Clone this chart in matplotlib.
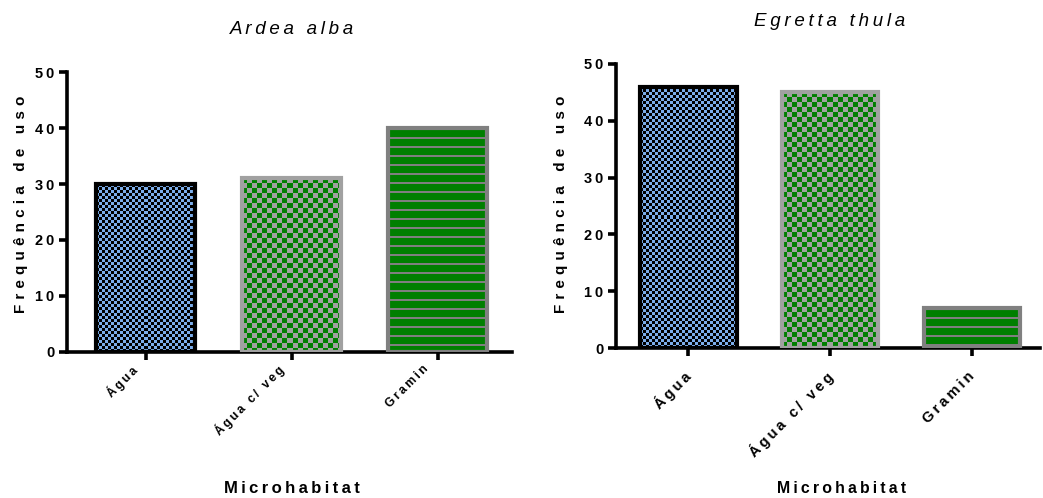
import numpy as np
import matplotlib
matplotlib.use("Agg")
import matplotlib.pyplot as plt
from matplotlib.transforms import ScaledTranslation

plt.rcParams['font.family'] = ['Liberation Sans', 'DejaVu Sans']

# data
categories = ["Água", "Água c/ veg", "Gramin"]
ardea = [30, 31, 40]
egretta = [46, 45, 7]
yticks = [0, 10, 20, 30, 40, 50]

BLUE = (0.49, 0.68, 0.92)
GREEN = (0.0, 0.5, 0.0)
GRAY1 = (0.63, 0.63, 0.63)
GRAY2 = (0.5, 0.5, 0.5)
edges = ["black", GRAY1, GRAY2]

THIN = "\u2009"
THIRD = "\u2004"


def sp(s, sep=THIN):
    # wide letter spacing like the prism export
    return sep.join(list(s))


def pattern(kind, w, h):
    yy, xx = np.mgrid[0:h, 0:w]
    img = np.zeros((h, w, 3))
    if kind == 0:
        chk = ((xx // 3) + (yy // 3)) % 2 == 0
        img[:] = BLUE
        img[chk] = (0, 0, 0)
    elif kind == 1:
        chk = ((xx // 5) + (yy // 5)) % 2 == 0
        img[:] = GRAY1
        img[chk] = GREEN
    else:
        img[:] = GREEN
        img[(yy % 9) < 2] = GRAY2
    return img


fig = plt.figure(figsize=(10.43, 4.98), dpi=100)
axL = fig.add_axes([0.0642, 0.2932, 0.4267, 0.5622])
axR = fig.add_axes([0.5906, 0.3012, 0.4065, 0.5703])

# axes, values, xlim, xtick font size, xtick pad, label shift (inches)
setups = [(axL, ardea, (-0.54, 2.51), 8.7, 2, -0.15),
          (axR, egretta, (-0.51, 2.48), 10.6, 9, -0.05)]
for ax, vals, xl, fs, pad, dx in setups:
    x = np.arange(len(categories))
    bars = ax.bar(x, vals, width=0.68, color="white", edgecolor="none", zorder=1)
    ax.set_xlim(*xl)
    ax.set_ylim(0, 50)
    for s in ["top", "right"]:
        ax.spines[s].set_visible(False)
    for s in ["left", "bottom"]:
        ax.spines[s].set_linewidth(2.6)
    ax.set_yticks(yticks)
    ax.set_yticklabels([sp(str(t)) for t in yticks], fontsize=10.5, fontweight="bold")
    ax.set_xticks(x)
    ax.set_xticklabels([sp(c) for c in categories], fontsize=fs, fontweight="bold",
                       rotation=45, ha="right", rotation_mode="anchor")
    ax.tick_params(width=2.6, length=6, pad=3)
    ax.tick_params(axis="x", pad=pad)
    ax._bars = bars

fig.canvas.draw()
r = fig.canvas.get_renderer()
for ax, vals, xl, fs, pad, dx in setups:
    for i, b in enumerate(ax._bars):
        bb = b.get_window_extent(r)
        w, h = int(round(bb.width)), int(round(bb.height))
        img = pattern(i, max(w, 1), max(h, 1))
        x0 = b.get_x()
        im = ax.imshow(img, extent=(x0, x0 + b.get_width(), 0, b.get_height()),
                       origin="upper", interpolation="nearest", aspect="auto", zorder=2)
        im.set_clip_path(b)
        ax.bar(b.get_x() + b.get_width() / 2, b.get_height(), width=b.get_width(),
               fill=False, edgecolor=edges[i], linewidth=3, zorder=3)
    ax.set_xlim(*xl)
    ax.set_ylim(0, 50)
    shift = ScaledTranslation(dx, 0, fig.dpi_scale_trans)
    for lbl in ax.get_xticklabels():
        lbl.set_transform(lbl.get_transform() + shift)

fig.text(0.28, 0.94, sp("Ardea alba"), fontsize=13.5, style="italic", ha="center", va="center")
fig.text(0.795, 0.956, sp("Egretta thula"), fontsize=13.5, style="italic", ha="center", va="center")
fig.text(0.0197, 0.59, sp("Frequência de uso", THIRD), fontsize=11, fontweight="bold",
         rotation=90, ha="center", va="center")
fig.text(0.538, 0.59, sp("Frequência de uso", THIRD), fontsize=11, fontweight="bold",
         rotation=90, ha="center", va="center")
fig.text(0.28, 0.02, sp("Microhabitat"), fontsize=12, fontweight="bold", ha="center", va="center")
fig.text(0.807, 0.02, sp("Microhabitat"), fontsize=11.4, fontweight="bold", ha="center", va="center")

fig.savefig("out.png", dpi=100)
